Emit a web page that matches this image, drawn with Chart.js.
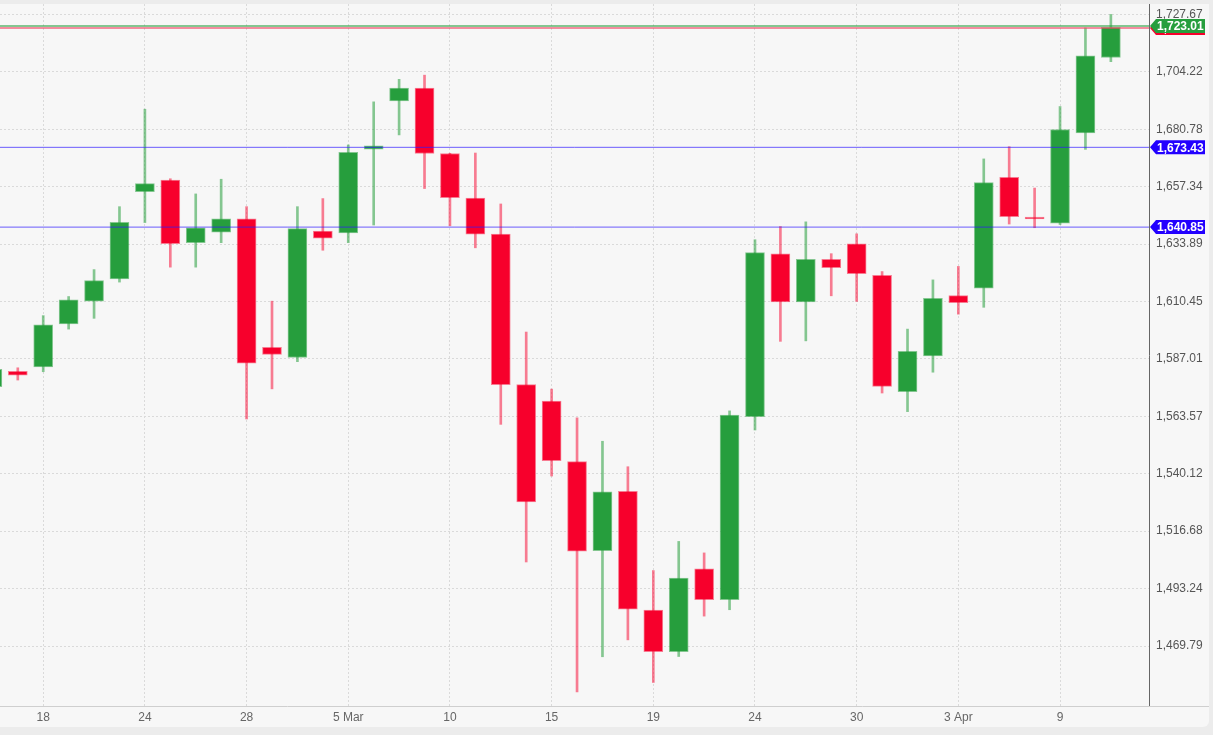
<!DOCTYPE html>
<html>
<head>
<meta charset="utf-8">
<script src="https://cdn.jsdelivr.net/npm/chart.js@4.4.1/dist/chart.umd.min.js"></script>
<style>
html, body { margin: 0; padding: 0; background: #ececec; }
#box { position: absolute; left: 0; top: 4px; width: 1209px; height: 723px; background: #f7f7f7; border-radius: 0 0 6px 0; overflow: hidden; }
canvas { display: block; }
</style>
</head>
<body>
<div id="box"><canvas id="c" width="1209" height="723"></canvas></div>
<script>
// daily candles, first one is cut off at the left edge
var firstIdx = -1;
var opens  = [1575.7, 1582.0, 1583.8, 1601.3, 1610.6, 1619.7, 1655.3, 1660.1, 1634.5, 1638.8,
              1644.2, 1591.8, 1587.6, 1639.2, 1638.5, 1672.7, 1692.4, 1697.6, 1670.9, 1652.7,
              1638.0, 1576.5, 1569.8, 1545.1, 1508.7, 1533.0, 1484.5, 1467.5, 1501.3, 1488.7,
              1563.4, 1629.9, 1610.3, 1627.7, 1634.0, 1621.2, 1573.6, 1588.3, 1612.9, 1615.9,
              1661.2, 1644.9, 1642.5, 1679.3, 1710.1];
var highs  = [1584.5, 1583.4, 1604.7, 1612.5, 1623.5, 1649.2, 1689.0, 1660.6, 1654.4, 1660.4,
              1649.2, 1610.6, 1649.2, 1652.5, 1674.4, 1692.0, 1701.2, 1702.9, 1671.0, 1671.1,
              1650.3, 1598.0, 1574.7, 1563.0, 1553.4, 1543.0, 1500.6, 1512.5, 1507.8, 1565.8,
              1635.7, 1641.1, 1643.0, 1630.0, 1638.1, 1622.7, 1599.2, 1619.3, 1624.8, 1668.7,
              1673.7, 1656.8, 1690.1, 1722.2, 1727.7];
var lows   = [1573.0, 1578.4, 1581.8, 1599.2, 1603.6, 1618.4, 1642.7, 1624.5, 1624.5, 1634.5,
              1562.5, 1574.8, 1585.9, 1631.4, 1634.5, 1641.7, 1678.5, 1656.6, 1641.4, 1632.4,
              1560.3, 1504.1, 1539.2, 1451.0, 1465.4, 1472.3, 1454.9, 1465.5, 1482.0, 1484.6,
              1558.0, 1594.2, 1594.4, 1612.8, 1610.5, 1573.1, 1565.5, 1581.6, 1605.3, 1608.1,
              1642.1, 1640.6, 1641.9, 1672.6, 1708.4];
var closes = [1582.8, 1580.4, 1600.9, 1611.2, 1619.0, 1642.8, 1658.6, 1634.1, 1640.6, 1644.2,
              1585.3, 1588.9, 1640.2, 1636.3, 1671.4, 1674.0, 1697.6, 1670.9, 1652.9, 1638.0,
              1576.5, 1528.6, 1545.5, 1508.5, 1532.7, 1484.8, 1467.5, 1497.5, 1488.7, 1564.1,
              1630.4, 1610.3, 1627.7, 1624.3, 1621.8, 1575.8, 1590.1, 1611.8, 1610.0, 1659.0,
              1645.1, 1644.2, 1680.7, 1710.8, 1722.4];

var tickIdx    = [1, 5, 9, 13, 17, 21, 25, 29, 33, 37, 41];
var tickLabels = ['18', '24', '28', '5 Mar', '10', '15', '19', '24', '30', '3 Apr', '9'];
var priceTicks = [1469.79, 1493.24, 1516.68, 1540.12, 1563.57, 1587.01, 1610.45, 1633.89,
                  1657.34, 1680.78, 1704.22, 1727.67];

var levelValues = [1722.2, 1723.01, 1673.43, 1640.85];
var levelKinds  = ['bid', 'last', 'line', 'line'];

var UP = '#269e3d', DOWN = '#f7002c';
var levelStyle = {
    bid:  { line: 'rgba(240,70,100,0.6)', tag: '#f5002b', width: 2 },
    last: { line: 'rgba(38,158,61,0.55)', tag: '#269e3d', width: 2 },
    line: { line: 'rgba(45,25,255,0.7)', tag: '#2200ff', width: 1 }
};

var bodies = [], wicks = [], bodyCol = [], bodyBorder = [], wickCol = [];
for (var i = 0; i < opens.length; i++) {
    var up = closes[i] >= opens[i];
    bodies.push({ x: i + firstIdx, y: [opens[i], closes[i]] });
    wicks.push({ x: i + firstIdx, y: [lows[i], highs[i]] });
    bodyCol.push(up ? UP : DOWN);
    bodyBorder.push(up ? 'rgba(38,158,61,0.55)' : 'rgba(247,0,44,0.5)');
    wickCol.push(up ? 'rgba(38,158,61,0.55)' : 'rgba(247,0,44,0.5)');
}

function fmt(v) {
    return v.toLocaleString('en-US', { minimumFractionDigits: 2, maximumFractionDigits: 2 });
}

var levelPlugin = {
    id: 'levels',
    afterDatasetsDraw: function (chart) {
        var ctx = chart.ctx, a = chart.chartArea, y = chart.scales.y;
        ctx.save();
        ctx.beginPath();
        ctx.rect(a.left, a.top, a.right - a.left, a.bottom - a.top);
        ctx.clip();
        for (var i = 0; i < levelValues.length; i++) {
            var st = levelStyle[levelKinds[i]];
            var py = y.getPixelForValue(levelValues[i]);
            ctx.strokeStyle = st.line;
            ctx.lineWidth = st.width;
            ctx.beginPath();
            ctx.moveTo(a.left, py);
            ctx.lineTo(a.right, py);
            ctx.stroke();
        }
        ctx.restore();
    },
    afterDraw: function (chart) {
        var ctx = chart.ctx, a = chart.chartArea, y = chart.scales.y;
        ctx.save();
        // bottom axis line runs under the price labels too
        ctx.strokeStyle = '#cfcfcf';
        ctx.lineWidth = 1;
        ctx.beginPath();
        ctx.moveTo(a.right, a.bottom + 0.5);
        ctx.lineTo(chart.width, a.bottom + 0.5);
        ctx.stroke();

        ctx.font = 'bold 12px "Liberation Sans", Arial, sans-serif';
        ctx.textBaseline = 'middle';
        for (var i = 0; i < levelValues.length; i++) {
            var st = levelStyle[levelKinds[i]];
            var py = y.getPixelForValue(levelValues[i]);
            var x0 = a.right + 1, w = 55, h = 14;
            ctx.fillStyle = st.tag;
            ctx.beginPath();
            ctx.moveTo(x0, py);
            ctx.lineTo(x0 + 6, py - h / 2);
            ctx.lineTo(x0 + w, py - h / 2);
            ctx.lineTo(x0 + w, py + h / 2);
            ctx.lineTo(x0 + 6, py + h / 2);
            ctx.closePath();
            ctx.fill();
            ctx.fillStyle = '#ffffff';
            ctx.fillText(fmt(levelValues[i]), x0 + 7, py + 1);
        }
        ctx.restore();
    }
};

Chart.defaults.font.family = '"Liberation Sans", Arial, sans-serif';
Chart.defaults.font.size = 12;

new Chart(document.getElementById('c'), {
    type: 'bar',
    data: {
        datasets: [{
            label: 'body',
            data: bodies,
            backgroundColor: bodyCol,
            borderColor: bodyBorder,
            borderWidth: 1,
            borderSkipped: false,
            barThickness: 19,
            grouped: false,
            order: 0
        }, {
            label: 'wick',
            data: wicks,
            backgroundColor: wickCol,
            borderWidth: 0,
            barThickness: 2,
            grouped: false,
            order: 1
        }]
    },
    options: {
        responsive: false,
        animation: false,
        layout: { padding: 0 },
        plugins: { legend: { display: false }, tooltip: { enabled: false } },
        scales: {
            x: {
                type: 'linear',
                offset: false,
                min: -0.70,
                max: 44.50,
                afterBuildTicks: function (s) { s.ticks = tickIdx.map(function (v) { return { value: v }; }); },
                afterFit: function (s) { s.height = 21; s.paddingLeft = 0; s.paddingRight = 0; },
                ticks: {
                    autoSkip: false,
                    maxRotation: 0,
                    padding: 4,
                    color: '#666',
                    callback: function (v) { return tickLabels[tickIdx.indexOf(v)]; }
                },
                grid: { offset: false, color: '#dadada', drawTicks: false },
                border: { display: true, color: '#cfcfcf', width: 1, dash: [2, 2] }
            },
            y: {
                position: 'right',
                min: 1445.29,
                max: 1731.96,
                afterBuildTicks: function (s) { s.ticks = priceTicks.map(function (v) { return { value: v }; }); },
                afterFit: function (s) { s.width = 60; s.paddingTop = 0; s.paddingBottom = 0; },
                ticks: {
                    padding: 7,
                    color: '#555',
                    callback: function (v) { return fmt(v); }
                },
                grid: { color: '#dadada', drawTicks: false },
                border: { display: true, color: '#666', width: 1, dash: [2, 2] }
            }
        }
    },
    plugins: [levelPlugin]
});
</script>
</body>
</html>
